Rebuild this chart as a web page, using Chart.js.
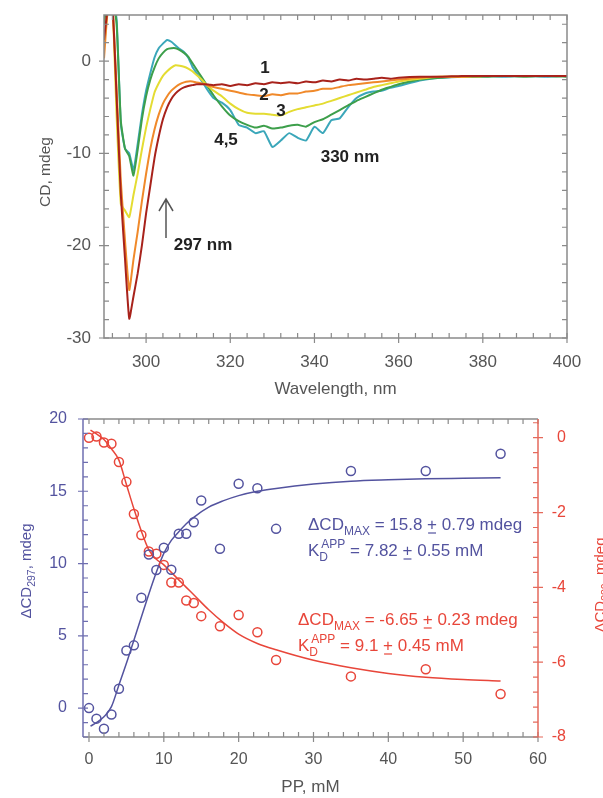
<!DOCTYPE html>
<html><head><meta charset="utf-8">
<script src="https://cdn.jsdelivr.net/npm/chart.js@4.4.0/dist/chart.umd.min.js"></script>
<style>
html,body{margin:0;padding:0;background:#fff;}
#w{position:relative;width:603px;height:798px;overflow:hidden;}
#c1{position:absolute;left:0;top:0;}
#c2{position:absolute;left:0;top:400px;}
</style></head><body>
<div id="w">
<canvas id="c1" width="603" height="400"></canvas>
<canvas id="c2" width="603" height="398"></canvas>
</div>
<script>
// ---------- Top chart: CD spectra ----------
const wavelength = [290,291,292,293,294,295,296,297,298,299,300,301,302,303,304,305,306,307,308,309,310,311,312,313,314,315,316,
  318,320,322,324,326,328,330,332,334,336,338,340,342,344,346,348,350,352,354,356,358,360,
  365,370,375,380,385,390,395,400];
const cdTitr1 = [2.3,6,6,-4,-14.5,-21.5,-27.9,-25.5,-23,-20,-16.5,-13.5,-10.5,-8.2,-6.3,-5.0,-4.1,-3.5,-3.1,-2.85,-2.7,-2.6,-2.5,-2.5,-2.5,-2.55,-2.6,
  -2.5,-2.7,-2.5,-2.6,-2.4,-2.5,-2.3,-2.4,-2.3,-2.4,-2.2,-2.3,-2.1,-2.2,-2.0,-2.1,-1.9,-2.0,-1.9,-1.8,-1.9,-1.8,
  -1.7,-1.7,-1.6,-1.6,-1.6,-1.6,-1.6,-1.6];
const cdTitr2 = [0.3,6,6,-3,-13,-19.5,-24.8,-21.5,-18.5,-15.2,-12.2,-9.5,-7.4,-5.8,-4.6,-3.8,-3.2,-2.8,-2.5,-2.3,-2.2,-2.2,-2.3,-2.4,-2.5,-2.7,-2.8,
  -3.0,-3.2,-3.4,-3.6,-3.7,-3.8,-3.6,-3.7,-3.5,-3.5,-3.3,-3.2,-3.0,-3.0,-2.8,-2.6,-2.5,-2.4,-2.3,-2.2,-2.1,-2.0,
  -1.8,-1.7,-1.7,-1.6,-1.6,-1.6,-1.6,-1.6];
const cdTitr3 = [1.5,6,6,-6,-15.5,-16.2,-16.9,-14.5,-12.2,-9.6,-7.2,-5.2,-3.4,-2.4,-1.6,-1.1,-0.7,-0.45,-0.5,-0.6,-0.8,-1.1,-1.5,-1.9,-2.4,-2.8,-3.2,
  -3.8,-4.6,-5.2,-5.6,-5.7,-5.7,-5.8,-5.9,-5.5,-5.2,-5.0,-4.8,-4.6,-4.3,-4.0,-3.7,-3.4,-3.1,-2.8,-2.6,-2.4,-2.2,
  -1.9,-1.7,-1.7,-1.6,-1.6,-1.6,-1.6,-1.6];
const cdTitr4 = [4.0,7,7,4,-6.5,-9.5,-10.3,-12.4,-9.6,-6.3,-3.8,-2.0,-0.7,0.3,0.9,1.3,1.4,1.4,1.2,0.9,0.5,-0.2,-0.9,-1.6,-2.3,-3.0,-3.7,
  -4.9,-5.9,-6.5,-6.9,-7.2,-7.0,-7.3,-7.2,-7.0,-6.9,-7.1,-6.6,-6.3,-5.8,-5.3,-4.8,-4.3,-3.9,-3.5,-3.1,-2.8,-2.5,
  -2.0,-1.8,-1.7,-1.7,-1.6,-1.7,-1.6,-1.7];
const cdTitr5 = [4.5,7,7,4.5,-6.8,-9.5,-10.0,-11.8,-9.0,-5.8,-3.2,-1.3,0.4,1.4,1.9,2.3,2.1,1.7,1.3,1.0,0.4,-0.6,-1.3,-2.0,-2.7,-3.4,-4.0,
  -4.5,-5.3,-6.9,-7.2,-7.8,-7.6,-9.3,-8.6,-7.8,-8.3,-8.6,-7.1,-7.8,-6.4,-6.2,-5.0,-4.0,-3.5,-3.3,-3.2,-2.9,-2.7,
  -2.1,-1.8,-1.7,-1.6,-1.7,-1.6,-1.7,-1.6];
const topXTickLabels = [300,320,340,360,380,400];
const topYTickLabels = [-30,-20,-10,0];

// ---------- Bottom chart: titration ----------
const ppConc = [0,1,2,3,4,5,6,7,8,9,10,11,12,13,14,15,17.5,20,22.5,25,35,45,55];
const dCD297 = [0,-0.73,-1.43,-0.44,1.34,3.99,4.34,7.63,10.63,9.55,11.09,9.57,12.06,12.06,12.86,14.36,11.02,15.52,15.21,12.4,16.4,16.4,17.6];
const dCD330 = [0,0.03,-0.13,-0.16,-0.65,-1.18,-2.04,-2.6,-3.04,-3.1,-3.4,-3.87,-3.87,-4.35,-4.42,-4.77,-5.04,-4.74,-5.2,-5.94,-6.38,-6.19,-6.85];
const fitConc = [0.2,1,2,3,4,5,6,7,8,9,10,11,12,13,14,16,18,20,22.5,25,30,35,40,45,50,55];
const fit297 = [-1.25,-1.0,-0.6,0.1,1.6,3.1,4.7,6.3,7.9,9.4,10.7,11.6,12.2,12.75,13.2,13.9,14.35,14.7,15.0,15.2,15.5,15.7,15.8,15.87,15.9,15.93];
const fit330 = [0.2,0.1,-0.05,-0.3,-0.6,-1.25,-1.9,-2.5,-3.0,-3.25,-3.4,-3.6,-3.8,-4.0,-4.2,-4.6,-4.95,-5.25,-5.5,-5.67,-5.95,-6.15,-6.3,-6.4,-6.46,-6.5];
const botXTickLabels = [0,10,20,30,40,50,60];
const botLeftTickLabels = [0,5,10,15,20];
const botRightTickLabels = [-8,-6,-4,-2,0];

const FONT = "'Liberation Sans', Arial, Helvetica, sans-serif";
const GRAY = '#8a8a8a';
const BLUE = '#53539f';
const RED = '#e8463a';

function xy(xs, ys){ return xs.map((x,i)=>({x:x, y:ys[i]})); }
function range(a,b,s){ const r=[]; for(let v=a; v<=b+1e-9; v+=s) r.push(Math.round(v*1000)/1000); return r; }
function fixTicks(list){ return function(s){ s.ticks = list.map(v=>({value:v})); }; }
function fitBox(w, h){
  return function(s){
    if (w !== null) s.width = w;
    if (h !== null) s.height = h;
    s.paddingTop = 0; s.paddingBottom = 0; s.paddingLeft = 0; s.paddingRight = 0;
  };
}

function richText(ctx, x, y, parts, size, subSize){
  for (const p of parts){
    if (p.sub !== undefined || p.sup !== undefined){
      ctx.font = subSize + 'px ' + FONT;
      let w1=0, w2=0;
      if (p.sub){ ctx.fillText(p.sub, x, y + size*0.28); w1 = ctx.measureText(p.sub).width; }
      if (p.sup){ const dx = p.supDx||0; ctx.fillText(p.sup, x+dx, y - size*0.45); w2 = ctx.measureText(p.sup).width + dx; }
      x += Math.max(w1,w2);
    } else {
      ctx.font = size + 'px ' + FONT;
      ctx.fillText(p.t, x, y);
      const w = ctx.measureText(p.t).width;
      if (p.ul){ ctx.lineWidth = 1.2; ctx.beginPath(); ctx.moveTo(x+1, y+3); ctx.lineTo(x+w-1, y+3); ctx.stroke(); }
      x += w;
    }
  }
  return x;
}
function richWidth(ctx, parts, size, subSize){
  let w = 0;
  for (const p of parts){
    if (p.sub !== undefined || p.sup !== undefined){
      ctx.font = subSize + 'px ' + FONT;
      w += Math.max(p.sub?ctx.measureText(p.sub).width:0, p.sup?ctx.measureText(p.sup).width+(p.supDx||0):0);
    } else { ctx.font = size + 'px ' + FONT; w += ctx.measureText(p.t).width; }
  }
  return w;
}
function rotatedTitle(ctx, bx, cy, parts, size, subSize, color){
  ctx.save();
  ctx.translate(bx, cy); ctx.rotate(-Math.PI/2);
  ctx.fillStyle = color; ctx.textBaseline = 'alphabetic'; ctx.textAlign = 'left';
  const w = richWidth(ctx, parts, size, subSize);
  richText(ctx, -w/2, 0, parts, size, subSize);
  ctx.restore();
}

// ---------- top chart ----------
const topDeco = {
  id: 'topDeco',
  afterDatasetsDraw(chart){
    const ctx = chart.ctx, a = chart.chartArea, x = chart.scales.x, y = chart.scales.y;
    ctx.save();
    ctx.strokeStyle = GRAY; ctx.lineWidth = 1.5;
    ctx.strokeRect(a.left, a.top, a.right-a.left, a.bottom-a.top);
    ctx.lineWidth = 1.2; ctx.beginPath();
    for (const v of range(292,400,4)){
      const px = x.getPixelForValue(v), major = topXTickLabels.includes(v);
      ctx.moveTo(px, a.bottom + (major?5:0)); ctx.lineTo(px, a.bottom-5);
      ctx.moveTo(px, a.top); ctx.lineTo(px, a.top+5);
    }
    for (const v of range(-30,4,2)){
      const py = y.getPixelForValue(v), major = topYTickLabels.includes(v);
      ctx.moveTo(a.left-(major?5:0), py); ctx.lineTo(a.left+5, py);
      ctx.moveTo(a.right, py); ctx.lineTo(a.right-5, py);
    }
    ctx.stroke();
    // labels
    ctx.fillStyle = '#222'; ctx.font = 'bold 17px ' + FONT; ctx.textAlign = 'center'; ctx.textBaseline = 'middle';
    ctx.fillText('1', 265, 68);
    ctx.fillText('2', 264, 95);
    ctx.fillText('3', 281, 111);
    ctx.fillText('4,5', 226, 140);
    ctx.fillText('330 nm', 350, 157);
    ctx.fillText('297 nm', 203, 245);
    // arrow
    ctx.strokeStyle = '#555'; ctx.lineWidth = 1.5; ctx.beginPath();
    ctx.moveTo(166, 238); ctx.lineTo(166, 199);
    ctx.moveTo(159, 211); ctx.lineTo(166, 199); ctx.lineTo(173, 211);
    ctx.stroke();
    // y title
    rotatedTitle(ctx, 50, 172, [{t:'CD, mdeg'}], 15.5, 11, '#555');
    ctx.restore();
  }
};
function specDs(arr, color){
  return {data: xy(wavelength, arr), showLine:true, borderColor:color, borderWidth:2, pointRadius:0, tension:0.15, fill:false};
}
new Chart(document.getElementById('c1'), {
  type: 'scatter',
  data: { datasets: [
    specDs(cdTitr1, '#a8221b'),
    specDs(cdTitr2, '#f0892a'),
    specDs(cdTitr3, '#e4dc32'),
    specDs(cdTitr4, '#3d9f4b'),
    specDs(cdTitr5, '#3ba7ba')
  ]},
  options: {
    responsive:false, animation:false, devicePixelRatio:1,
    layout:{padding:{top:15, right:36, left:0, bottom:0}},
    plugins:{legend:{display:false}, tooltip:{enabled:false}},
    scales:{
      x:{type:'linear', min:290, max:400, grid:{display:false, drawTicks:false}, border:{display:false},
         afterBuildTicks: fixTicks(topXTickLabels), afterFit: fitBox(null, 62),
         title:{display:true, text:'Wavelength, nm', color:'#555', font:{family:FONT, size:17}, padding:{top:-2,bottom:0}},
         ticks:{autoSkip:false, maxRotation:0, padding:14, color:'#555', font:{family:FONT, size:17}, callback:v=>String(v)}},
      y:{type:'linear', min:-30, max:5, grid:{display:false, drawTicks:false}, border:{display:false},
         afterBuildTicks: fixTicks(topYTickLabels), afterFit: fitBox(104, null),
         ticks:{autoSkip:false, padding:13, color:'#555', font:{family:FONT, size:17}, callback:v=>String(v)}}
    }
  },
  plugins:[topDeco]
});

// ---------- bottom chart ----------
const botDeco = {
  id: 'botDeco',
  afterDatasetsDraw(chart){
    const ctx = chart.ctx, a = chart.chartArea, x = chart.scales.x, y = chart.scales.y, y2 = chart.scales.y2;
    ctx.save();
    ctx.lineWidth = 1.5;
    ctx.strokeStyle = GRAY; ctx.beginPath();
    ctx.moveTo(a.left, a.top); ctx.lineTo(a.right, a.top);
    ctx.moveTo(a.left, a.bottom); ctx.lineTo(a.right, a.bottom);
    ctx.stroke();
    ctx.lineWidth = 1.2; ctx.beginPath();
    for (const v of range(0,60,2)){
      const px = x.getPixelForValue(v), major = botXTickLabels.includes(v);
      ctx.moveTo(px, a.bottom + (major?5:0)); ctx.lineTo(px, a.bottom-5);
      ctx.moveTo(px, a.top); ctx.lineTo(px, a.top+5);
    }
    ctx.stroke();
    ctx.strokeStyle = '#6e6eb0'; ctx.lineWidth = 1.5; ctx.beginPath();
    ctx.moveTo(a.left, a.top); ctx.lineTo(a.left, a.bottom); ctx.stroke();
    ctx.lineWidth = 1.2; ctx.beginPath();
    for (const v of range(-2,20,1)){
      const py = y.getPixelForValue(v), major = botLeftTickLabels.includes(v);
      ctx.moveTo(a.left-(major?5:0), py); ctx.lineTo(a.left+5, py);
    }
    ctx.stroke();
    ctx.strokeStyle = '#e5695b'; ctx.lineWidth = 1.5; ctx.beginPath();
    ctx.moveTo(a.right, a.top); ctx.lineTo(a.right, a.bottom); ctx.stroke();
    ctx.lineWidth = 1.2; ctx.beginPath();
    for (const v of range(-8,0.4,0.4)){
      const py = y2.getPixelForValue(v), major = botRightTickLabels.includes(v);
      ctx.moveTo(a.right+(major?5:0), py); ctx.lineTo(a.right-5, py);
    }
    ctx.stroke();
    // annotations
    ctx.textAlign = 'left'; ctx.textBaseline = 'alphabetic';
    ctx.fillStyle = BLUE; ctx.strokeStyle = BLUE;
    richText(ctx, 308, 130, [{t:'\u0394CD'},{sub:'MAX'},{t:' = 15.8 '},{t:'+', ul:true},{t:' 0.79 mdeg'}], 17, 12);
    richText(ctx, 308, 156, [{t:'K'},{sub:'D', sup:'APP', supDx:2},{t:' = 7.82 '},{t:'+', ul:true},{t:' 0.55 mM'}], 17, 12);
    ctx.fillStyle = RED; ctx.strokeStyle = RED;
    richText(ctx, 298, 225, [{t:'\u0394CD'},{sub:'MAX'},{t:' = -6.65 '},{t:'+', ul:true},{t:' 0.23 mdeg'}], 17, 12);
    richText(ctx, 298, 251, [{t:'K'},{sub:'D', sup:'APP', supDx:2},{t:' = 9.1 '},{t:'+', ul:true},{t:' 0.45 mM'}], 17, 12);
    // axis titles
    rotatedTitle(ctx, 31, 171, [{t:'\u0394CD'},{sub:'297'},{t:', mdeg'}], 15, 10.5, BLUE);
    rotatedTitle(ctx, 605, 185, [{t:'\u0394CD'},{sub:'330'},{t:', mdeg'}], 15, 10.5, RED);
    ctx.restore();
  }
};
new Chart(document.getElementById('c2'), {
  type: 'scatter',
  data: { datasets: [
    {data: xy(ppConc, dCD297), yAxisID:'y', showLine:false, pointRadius:4.5, pointBorderWidth:1.5, borderColor:BLUE, backgroundColor:'rgba(0,0,0,0)', pointBackgroundColor:'rgba(0,0,0,0)'},
    {data: xy(ppConc, dCD330), yAxisID:'y2', showLine:false, pointRadius:4.5, pointBorderWidth:1.5, borderColor:RED, backgroundColor:'rgba(0,0,0,0)', pointBackgroundColor:'rgba(0,0,0,0)'},
    {data: xy(fitConc, fit297), yAxisID:'y', showLine:true, pointRadius:0, borderColor:BLUE, borderWidth:1.5, cubicInterpolationMode:'monotone'},
    {data: xy(fitConc, fit330), yAxisID:'y2', showLine:true, pointRadius:0, borderColor:RED, borderWidth:1.5, cubicInterpolationMode:'monotone'}
  ]},
  options: {
    responsive:false, animation:false, devicePixelRatio:1,
    layout:{padding:{top:19, right:37, left:0, bottom:0}},
    plugins:{legend:{display:false}, tooltip:{enabled:false}},
    scales:{
      x:{type:'linear', min:-0.8, max:60, grid:{display:false, drawTicks:false}, border:{display:false},
         afterBuildTicks: fixTicks(botXTickLabels), afterFit: fitBox(null, 61),
         title:{display:true, text:'PP, mM', color:'#555', font:{family:FONT, size:17}, padding:{top:-2,bottom:0}},
         ticks:{autoSkip:false, maxRotation:0, padding:13, color:'#555', font:{family:FONT, size:16}, callback:v=>String(v)}},
      y:{type:'linear', position:'left', min:-2, max:20, grid:{display:false, drawTicks:false}, border:{display:false},
         afterBuildTicks: fixTicks(botLeftTickLabels), afterFit: fitBox(83, null),
         ticks:{autoSkip:false, padding:16, color:BLUE, font:{family:FONT, size:16}, callback:v=>String(v)}},
      y2:{type:'linear', position:'right', min:-8, max:0.5, grid:{display:false, drawTicks:false}, border:{display:false},
         afterBuildTicks: fixTicks(botRightTickLabels), afterFit: fitBox(28, null),
         ticks:{autoSkip:false, crossAlign:'far', padding:10, color:RED, font:{family:FONT, size:16}, callback:v=>String(v)}}
    }
  },
  plugins:[botDeco]
});
</script>
</body></html>
